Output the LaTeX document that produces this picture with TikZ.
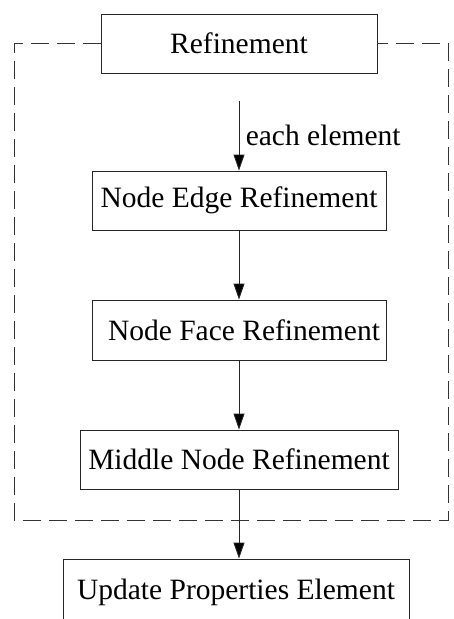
\documentclass[tikz,border=0pt]{standalone}
\usepackage{fontspec}
\setmainfont{Liberation Serif}
\usetikzlibrary{arrows.meta}
\begin{document}
\begin{tikzpicture}[x=1pt,y=-1pt,
  box/.style={draw=black!85,line width=0.9pt,rectangle,inner sep=0pt,
    minimum height=59pt,font=\fontsize{29.5}{34}\selectfont},
  flow/.style={draw=black!85,line width=0.9pt,-{Triangle[length=16pt,width=11pt,fill=black]}},
  frame/.style={draw=black!80,line width=0.9pt,dash pattern=on 18pt off 8pt}]
\useasboundingbox (0,0) rectangle (453,619);

% process boxes
\node[box,minimum width=276pt] (ref)  at (239,43.5)  {Refinement};
\node[box,minimum width=294pt] (edge) at (239,200.5) {Node Edge Refinement};
\node[box,minimum width=294pt,minimum height=60pt] (face) at (239,330) {\hspace*{10pt}Node Face Refinement};
\node[box,minimum width=318pt] (mid)  at (239,459.5) {Middle Node Refinement};
\node[box,minimum width=346pt,minimum height=66pt] (upd) at (236,592) {Update Properties Element};

% dashed loop frame around the per-element steps
\coordinate (tl) at (14,43.5);
\coordinate (bl) at (14,520);
\coordinate (br) at (448,520);
\coordinate (tr) at (448,43.5);
\draw[frame] (ref.west) -- (tl) -- (bl) -- (br) -- (tr) -- (ref.east);

% connectors
\coordinate (start) at (239,101);
\draw[flow] (start) -- (edge.north)
  node[midway,right=3pt,font=\fontsize{29.5}{34}\selectfont] (lbl) {each element};
\draw[flow] (edge.south) -- (face.north);
\draw[flow] (face.south) -- (mid.north);
\draw[flow] (mid.south) -- (mid.south |- upd.north);
\end{tikzpicture}
\end{document}
